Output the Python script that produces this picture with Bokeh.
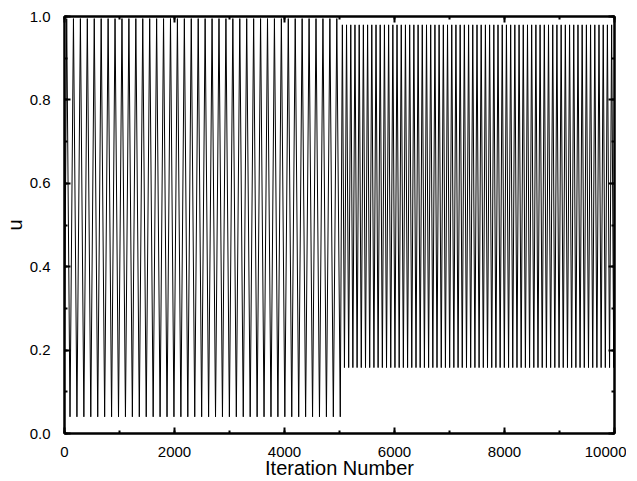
from bokeh.plotting import figure
from bokeh.models import Range1d, LinearAxis, SingleIntervalTicker, NumeralTickFormatter, CustomJSTickFormatter
from bokeh.embed import file_html
from bokeh.resources import INLINE

# Turning points (iteration numbers)
start_iter = [0]
start_u = [0.20]

troughs_a = [100, 226, 352, 478, 604, 730, 856, 982, 1108, 1234, 1360, 1486, 1612,
             1738, 1864, 1990, 2116, 2242, 2368, 2494, 2620, 2746, 2872, 2998, 3124,
             3250, 3376, 3502, 3628, 3754, 3880, 4006, 4132, 4258, 4384, 4510, 4636,
             4762, 4888, 5014]
peaks_a = [40, 163, 289, 415, 541, 667, 793, 919, 1045, 1171, 1297, 1423, 1549, 1675,
           1801, 1927, 2053, 2179, 2305, 2431, 2557, 2683, 2809, 2935, 3061, 3187,
           3313, 3439, 3565, 3691, 3817, 3943, 4069, 4195, 4321, 4447, 4573, 4699,
           4825, 4951]
troughs_b = [5090, 5167, 5243, 5320, 5396, 5473, 5549, 5626, 5702, 5779, 5855, 5932,
             6008, 6085, 6161, 6238, 6314, 6391, 6467, 6544, 6620, 6697, 6773, 6850,
             6926, 7003, 7079, 7156, 7232, 7309, 7385, 7462, 7538, 7615, 7691, 7768,
             7844, 7921, 7997, 8074, 8150, 8227, 8303, 8380, 8456, 8533, 8609, 8686,
             8762, 8839, 8915, 8992, 9068, 9145, 9221, 9298, 9374, 9451, 9527, 9604,
             9680, 9757, 9833, 9910, 9986]
peaks_b = [5052, 5128, 5205, 5281, 5358, 5434, 5511, 5587, 5664, 5740, 5817, 5893,
           5970, 6046, 6123, 6199, 6276, 6352, 6429, 6505, 6582, 6658, 6735, 6811,
           6888, 6964, 7041, 7117, 7194, 7270, 7347, 7423, 7500, 7576, 7653, 7729,
           7806, 7882, 7959, 8035, 8112, 8188, 8265, 8341, 8418, 8494, 8571, 8647,
           8724, 8800, 8877, 8953, 9030, 9106, 9183, 9259, 9336, 9412, 9489, 9565,
           9642, 9718, 9795, 9871, 9948]
end_iter = [10000]
end_u = [0.60]

# levels
u_low_a, u_high_a = 0.04, 0.995
u_low_b, u_high_b = 0.158, 0.98

pts = list(zip(start_iter, start_u))
pts += [(t, u_low_a) for t in troughs_a]
pts += [(t, u_high_a) for t in peaks_a]
pts += [(t, u_low_b) for t in troughs_b]
pts += [(t, u_high_b) for t in peaks_b]
pts += list(zip(end_iter, end_u))
pts.sort()
xs = [q[0] for q in pts]
ys = [q[1] for q in pts]

p = figure(width=626, height=481, output_backend="svg", toolbar_location=None,
           x_range=Range1d(0, 10000), y_range=Range1d(0, 1.0),
           min_border_left=58, min_border_right=12, min_border_top=16, min_border_bottom=46)
p.background_fill_color = "white"
p.border_fill_color = "white"
p.outline_line_color = "black"
p.outline_line_width = 2
p.xgrid.visible = False
p.ygrid.visible = False

p.line(xs, ys, line_color="black", line_width=1)

FONT = "Liberation Sans"

def style(ax):
    ax.axis_line_width = 2
    ax.axis_line_color = "black"
    ax.major_tick_in = 6
    ax.major_tick_out = 0
    ax.minor_tick_in = 3
    ax.minor_tick_out = 0
    ax.major_tick_line_width = 2
    ax.minor_tick_line_width = 2
    ax.major_label_text_font = FONT
    ax.major_label_text_font_size = "15px"
    ax.major_label_text_color = "black"

p.xaxis.ticker = SingleIntervalTicker(interval=2000, num_minor_ticks=2)
p.yaxis.ticker = SingleIntervalTicker(interval=0.2, num_minor_ticks=2)
p.yaxis.formatter = NumeralTickFormatter(format="0.0")
style(p.xaxis[0])
style(p.yaxis[0])
p.xaxis.axis_label = "Iteration Number"
p.yaxis.axis_label = "u"
for ax in (p.xaxis[0], p.yaxis[0]):
    ax.axis_label_text_font = FONT
    ax.axis_label_text_font_style = "normal"
    ax.axis_label_text_font_size = "20px"
    ax.axis_label_text_color = "black"
p.xaxis.major_label_standoff = 13
p.xaxis.axis_label_standoff = -3
p.yaxis.major_label_standoff = 14
p.yaxis.axis_label_standoff = 1

blank = CustomJSTickFormatter(code="return ''")
top = LinearAxis(ticker=SingleIntervalTicker(interval=2000, num_minor_ticks=2), formatter=blank)
style(top)
top.major_label_standoff = 0
p.add_layout(top, "above")
right = LinearAxis(ticker=SingleIntervalTicker(interval=0.2, num_minor_ticks=2), formatter=blank)
style(right)
right.major_label_standoff = 0
p.add_layout(right, "right")

open("out.html", "w").write(file_html(p, INLINE))
